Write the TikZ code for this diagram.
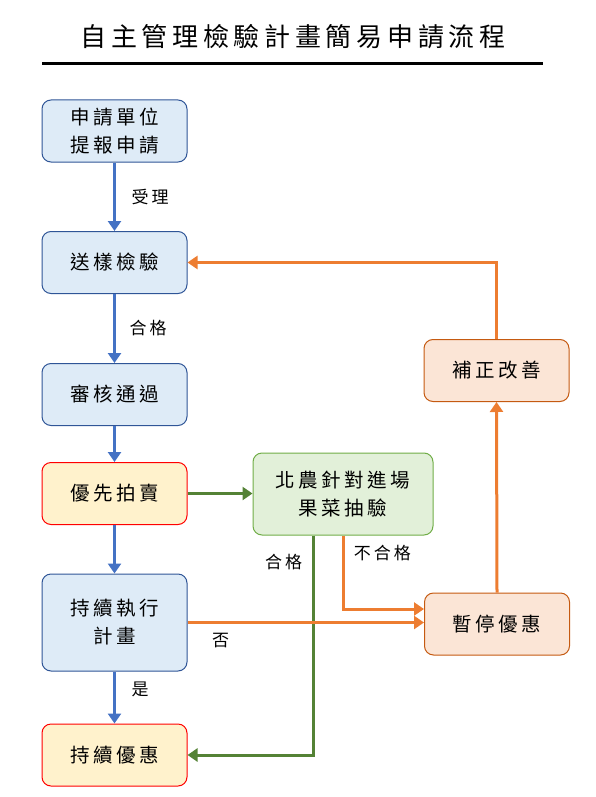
\documentclass[tikz,border=0pt]{standalone}
\usepackage{fontspec}
\newfontfamily\cjk[LetterSpace=18]{Noto Sans CJK TC}
\usetikzlibrary{positioning, arrows.meta}

\definecolor{blueline}{HTML}{4472C4}
\definecolor{blueedge}{HTML}{2F5597}
\definecolor{bluefill}{HTML}{DEEBF7}
\definecolor{orangeline}{HTML}{ED7D31}
\definecolor{orangeedge}{HTML}{C55A11}
\definecolor{orangefill}{HTML}{FBE5D6}
\definecolor{greenline}{HTML}{548235}
\definecolor{greenedge}{HTML}{70AD47}
\definecolor{greenfill}{HTML}{E2F0D9}
\definecolor{yellowfill}{HTML}{FFF2CC}

\begin{document}
\begin{tikzpicture}[
            x=1pt, y=-1pt,
            every node/.style={font=\cjk\fontsize{19.5}{28}\selectfont},
            box/.style={draw, line width=1pt, rounded corners=9pt, minimum width=145pt, minimum height=62pt, align=center, inner sep=2pt},
            bluebox/.style={box, draw=blueedge, fill=bluefill},
            yellowbox/.style={box, draw=red, fill=yellowfill},
            orangebox/.style={box, draw=orangeedge, fill=orangefill},
            greenbox/.style={box, draw=greenedge, fill=greenfill, minimum width=180pt, minimum height=82pt},
            lbl/.style={text=black, font=\cjk\fontsize{17}{20}\selectfont},
            barr/.style={-{Triangle[length=10pt, width=13pt]}, line width=3.5pt, blueline},
            oarr/.style={-{Triangle[length=10pt, width=13pt]}, line width=3pt, orangeline},
            garr/.style={-{Triangle[length=10pt, width=13pt]}, line width=3pt, greenline}
        ]
            \useasboundingbox (0,0) rectangle (595,797);

            % Title
            \node (title) at (293,37) {\fontsize{26}{30}\selectfont 自主管理檢驗計畫簡易申請流程};
            \draw[line width=3pt] (42,64) -- (543,64);

            % Left column: main flow
            \node[bluebox] (apply) at (114.5,131) {申請單位\\提報申請};
            \node[bluebox] (send) at (114.5,262.5) {送樣檢驗};
            \node[bluebox] (pass) at (114.5,394.5) {審核通過};
            \node[yellowbox] (auction) at (114.5,493.5) {優先拍賣};
            \node[bluebox, minimum height=97pt] (cont) at (114.5,622.5) {持續執行\\計畫};
            \node[yellowbox] (keep) at (114.5,755) {持續優惠};

            % Right side
            \node[greenbox] (check) at (343,494) {北農針對進場\\果菜抽驗};
            \node[orangebox] (stop) at (497,624) {暫停優惠};
            \node[orangebox] (fix) at (496.5,370.5) {補正改善};

            \draw[barr] (apply) -- (send) node[midway, right=12pt, lbl] {受理};
            \draw[barr] (send) -- (pass) node[midway, right=10pt, lbl] {合格};
            \draw[barr] (pass) -- (auction);
            \draw[barr] (auction) -- (cont);
            \draw[barr] (cont) -- (keep) node[midway, above right=-4pt and 12pt, lbl] {是};

            \draw[garr] (auction.east) -- (auction.east -| check.west);
            \draw[garr] ([xshift=-30pt]check.south) |- (keep.east)
                node[pos=0.06, left=6pt, lbl] {合格};
            \draw[oarr] (check.south) |- ([yshift=15pt]stop.west)
                node[pos=0.12, right=6pt, lbl] {不合格};
            \draw[oarr] (cont.east) -- (cont.east -| stop.west)
                node[pos=0.14, below=6pt, lbl] {否};

            % Feedback loop
            \draw[oarr] (stop.north) -- (fix.south);
            \draw[oarr] (fix.north) |- (send.east);
        \end{tikzpicture}
\end{document}
